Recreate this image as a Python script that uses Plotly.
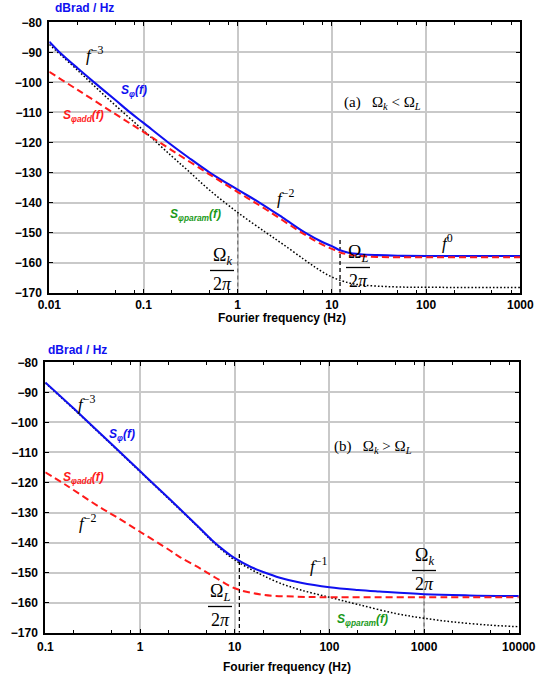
import plotly.graph_objects as go

# ---------------- data: panel (a)  Omega_k < Omega_L ----------------
fa_blue = [0.01, 0.0125, 0.02, 0.03, 0.05, 0.072, 0.1, 0.183, 0.3, 0.505, 1, 1.7, 3, 5.2, 8, 10, 12.2, 15, 20, 30, 50, 100, 1000]
sa_blue = [-86.5, -89.6, -95.3, -100, -105.8, -110, -113.5, -120, -125, -130, -135.7, -140, -145, -150, -153.2, -154.5, -155.9, -156.7, -157.2, -157.5, -157.7, -157.8, -157.8]

fa_red = [0.01, 0.02, 0.05, 0.1, 0.2, 0.5, 1, 2, 5, 8, 10, 12.2, 15, 20, 30, 100, 1000]
sa_red = [-96.5, -102.5, -110.5, -116.5, -122.6, -130.6, -136.5, -142.3, -150.4, -154.1, -155.4, -156.6, -157.3, -157.8, -158.1, -158.2, -158.2]

fa_black = [0.01, 0.02, 0.044, 0.1, 0.2, 0.3, 0.5, 1, 2, 3, 5, 7, 10, 15, 20, 30, 50, 100, 1000]
sa_black = [-87.4, -96.0, -106, -116, -124.6, -129.5, -135.8, -143.3, -150.0, -153.8, -158.8, -162.0, -164.8, -166.7, -167.4, -167.8, -168.1, -168.2, -168.3]

fa_k = 1.0          # Omega_k / 2pi  (panel a)
fa_k_span = [-143.3, -170]
fa_L = 12.2         # Omega_L / 2pi  (panel a)
fa_L_span = [-152.5, -170]

# ---------------- data: panel (b)  Omega_k > Omega_L ----------------
fb_blue = [0.1, 0.2, 0.5, 1, 2, 4, 5.76, 8, 10, 15, 20, 30, 50, 100, 200, 337, 1000, 3000, 10000]
sb_blue = [-86.7, -95.4, -107.2, -116.2, -125.2, -134.3, -139.2, -143, -145.2, -148.2, -149.8, -151.7, -153.4, -154.9, -155.8, -156.3, -157.2, -157.6, -157.8]

fb_red = [0.1, 0.168, 0.379, 0.545, 1, 2, 2.66, 4.3, 6, 10, 20, 45, 100, 1000, 10000]
sb_red = [-116.6, -121, -128.3, -131.2, -136.4, -142.3, -144.9, -148.6, -151.3, -155.2, -157.4, -158.0, -158.2, -158.2, -158.2]

fb_black = [0.1, 0.2, 0.5, 1, 2, 4, 5.76, 8, 10, 15, 20, 30, 50, 100, 200, 500, 1000, 2000, 5000, 10000]
sb_black = [-86.9, -95.6, -107.4, -116.4, -125.4, -134.5, -139.5, -143.5, -145.8, -149, -151, -153.5, -155.8, -158.2, -160.6, -163.6, -165.2, -166.4, -167.5, -168]

fb_L = 11.2
fb_L_span = [-143.8, -170]
fb_k = 1000
fb_k_span = [-157.3, -170]

xticks_a = [0.01, 0.1, 1, 10, 100, 1000]
xtext_a = ["0.01", "0.1", "1", "10", "100", "1000"]
xticks_b = [0.1, 1, 10, 100, 1000, 10000]
xtext_b = ["0.1", "1", "10", "100", "1000", "10000"]
yrange = [-170, -80]

# ---------------- styling ----------------
W, H = 543, 677
BLUE = "#1010f0"
RED = "#ff1a1a"
GREEN = "#1a9a1a"
SANS = "Liberation Sans"
SERIF = "Liberation Serif"


def px(x):
    return x / W


def py(y):
    return 1 - y / H


fig = go.Figure()


def add_panel(xa, ya, fb, sb, fr, sr, fbk, sbk, v1, v1s, v1c, v2, v2s, v2c):
    fig.add_trace(go.Scatter(x=[v1, v1], y=v1s, mode="lines", xaxis=xa, yaxis=ya,
                             line=dict(color=v1c, width=1.3, dash="4px,3px"), showlegend=False))
    fig.add_trace(go.Scatter(x=[v2, v2], y=v2s, mode="lines", xaxis=xa, yaxis=ya,
                             line=dict(color=v2c, width=1.3, dash="4px,3px"), showlegend=False))
    fig.add_trace(go.Scatter(x=fbk, y=sbk, mode="lines", xaxis=xa, yaxis=ya, line_shape="spline",
                             line=dict(color="black", width=1.5, dash="1.6px,2px"), showlegend=False))
    fig.add_trace(go.Scatter(x=fb, y=sb, mode="lines", xaxis=xa, yaxis=ya, line_shape="spline",
                             line=dict(color=BLUE, width=2.1), showlegend=False))
    fig.add_trace(go.Scatter(x=fr, y=sr, mode="lines", xaxis=xa, yaxis=ya, line_shape="spline",
                             line=dict(color=RED, width=2, dash="7px,4px"), showlegend=False))


add_panel("x", "y", fa_blue, sa_blue, fa_red, sa_red, fa_black, sa_black,
          fa_k, fa_k_span, "#777777", fa_L, fa_L_span, "black")
add_panel("x2", "y2", fb_blue, sb_blue, fb_red, sb_red, fb_black, sb_black,
          fb_L, fb_L_span, "black", fb_k, fb_k_span, "#777777")


def minor_vals(lo, hi):
    out = []
    for e in range(lo, hi):
        for m in (2, 5, 8):
            out.append(m * 10 ** e)
    return out


tickfont = dict(family=SANS, size=12, color="black", weight="bold")


def xaxis(domain, rng, tv, tt, anchor, minor, standoff):
    return dict(type="log", domain=domain, range=rng, tickvals=tv, ticktext=tt,
                showgrid=True, gridcolor="#c9c9c9", gridwidth=1.5, zeroline=False,
                showline=True, linecolor="black", linewidth=2, mirror="ticks",
                ticks="inside", ticklen=4, tickwidth=1.2, tickcolor="black",
                minor=dict(tickvals=minor, ticks="inside", ticklen=3, tickcolor="black", showgrid=False),
                tickfont=tickfont, anchor=anchor, ticklabelstandoff=standoff, automargin=False)


def yaxis(domain, anchor):
    return dict(domain=domain, range=yrange, tick0=-80, dtick=10,
                showgrid=True, gridcolor="#c9c9c9", gridwidth=1.5, zeroline=False,
                showline=True, linecolor="black", linewidth=2, mirror="ticks",
                ticks="inside", ticklen=4, tickwidth=1.2, tickcolor="black",
                tickfont=tickfont, anchor=anchor, ticklabelstandoff=3, automargin=False)


fig.update_layout(
    width=W, height=H, margin=dict(l=0, r=0, t=0, b=0, autoexpand=False),
    paper_bgcolor="white", plot_bgcolor="white", showlegend=False,
    xaxis=xaxis([px(49.3), px(520.3)], [-2, 3], xticks_a, xtext_a, "y", minor_vals(-2, 3), 0),
    yaxis=yaxis([py(292.7), py(22.3)], "x"),
    xaxis2=xaxis([px(45.3), px(518.8)], [-1, 4], xticks_b, xtext_b, "y2", minor_vals(-1, 4), 2),
    yaxis2=yaxis([py(632.7), py(362.3)], "x2"),
)

ann = []


def text(x, y, s, size, color="black", family=SERIF, xanchor="center", yanchor="middle"):
    ann.append(dict(x=px(x), y=py(y), xref="paper", yref="paper", text=s, showarrow=False,
                    xanchor=xanchor, yanchor=yanchor,
                    font=dict(family=family, size=size, color=color)))


def frac(xc, ybar, num, half):
    text(xc, ybar - 1, num, 18, yanchor="bottom")
    text(xc, ybar + 1, "2<i>π</i>", 18, yanchor="top")
    fig.add_shape(type="line", xref="paper", yref="paper", x0=px(xc - half), x1=px(xc + half),
                  y0=py(ybar), y1=py(ybar), line=dict(color="black", width=1.3))


# panel (a)
text(84, 8, "<b>dBrad / Hz</b>", 12, BLUE, SANS)
text(84, 54, "<i>f</i><sup>−3</sup>", 17, xanchor="left")
text(134, 91, "<b><i>S<sub>φ</sub>(f)</i></b>", 12, BLUE, SANS)
text(83, 116, "<b><i>S<sub>φadd</sub>(f)</i></b>", 12, RED, SANS)
text(195, 215, "<b><i>S<sub>φparam</sub>(f)</i></b>", 12, GREEN, SANS)
text(275, 197, "<i>f</i><sup>−2</sup>", 17, xanchor="left")
text(440, 242, "<i>f</i><sup>0</sup>", 17, xanchor="left")
text(342, 103, "(a)   Ω<sub><i>k</i></sub> < Ω<sub><i>L</i></sub>", 15, xanchor="left")
frac(222, 270.5, "Ω<sub><i>k</i></sub>", 12)
frac(358, 267.5, "Ω<sub><i>L</i></sub>", 12)
text(282, 318, "<b>Fourier frequency (Hz)</b>", 12, "black", SANS)

# panel (b)
text(77, 350, "<b>dBrad / Hz</b>", 12, BLUE, SANS)
text(76, 403, "<i>f</i><sup>−3</sup>", 17, xanchor="left")
text(122, 435, "<b><i>S<sub>φ</sub>(f)</i></b>", 12, BLUE, SANS)
text(83, 478, "<b><i>S<sub>φadd</sub>(f)</i></b>", 12, RED, SANS)
text(77, 522, "<i>f</i><sup>−2</sup>", 17, xanchor="left")
text(332, 447, "(b)   Ω<sub><i>k</i></sub> > Ω<sub><i>L</i></sub>", 15, xanchor="left")
text(308, 565, "<i>f</i><sup>−1</sup>", 17, xanchor="left")
frac(424, 570.5, "Ω<sub><i>k</i></sub>", 12)
frac(220, 606.5, "Ω<sub><i>L</i></sub>", 12)
text(362, 620, "<b><i>S<sub>φparam</sub>(f)</i></b>", 12, GREEN, SANS)
text(287, 667, "<b>Fourier frequency (Hz)</b>", 12, "black", SANS)

fig.update_layout(annotations=ann)
fig.write_html("out.html", config={"displayModeBar": False},
               post_script="document.body.style.margin='0';document.body.style.overflow='hidden';")
